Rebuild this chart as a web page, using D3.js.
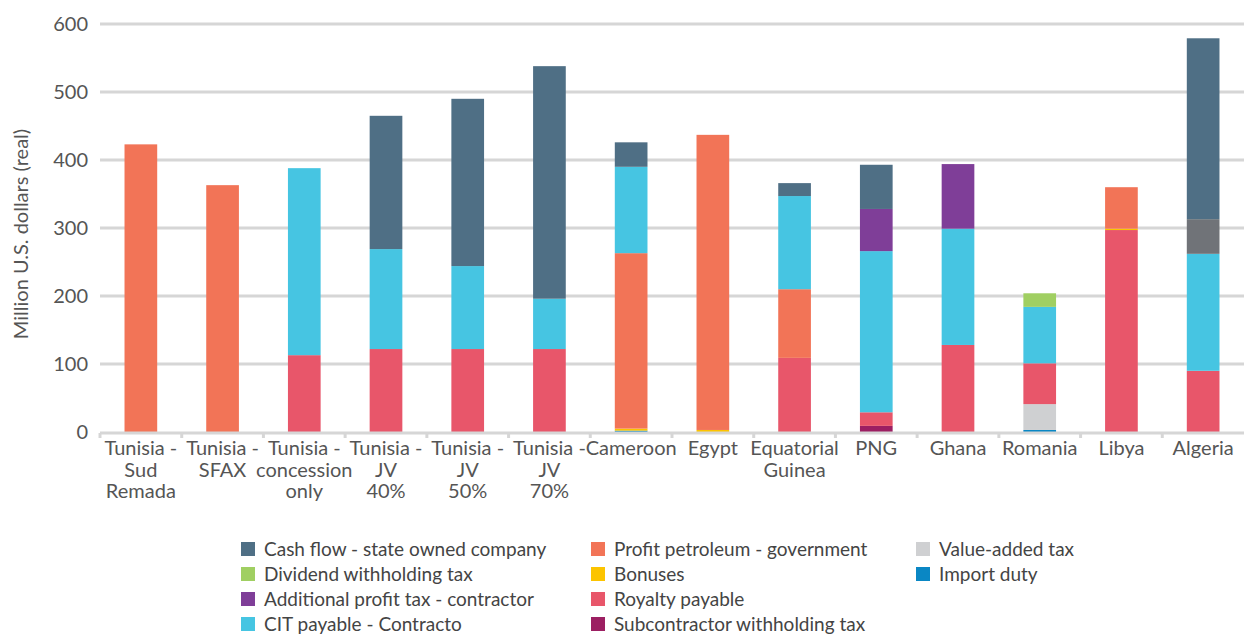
<!DOCTYPE html>
<html>
<head>
<meta charset="utf-8">
<script src="https://cdn.jsdelivr.net/npm/d3@7"></script>
<style>
  body { margin: 0; background: #fff; }
  svg { font-family: Lato, "Open Sans", sans-serif; }
</style>
</head>
<body>
<script>
// categories (label lines)
var categories = [
  ["Tunisia -", "Sud", "Remada"],
  ["Tunisia -", "SFAX"],
  ["Tunisia -", "concession", "only"],
  ["Tunisia -", "JV", "40%"],
  ["Tunisia -", "JV", "50%"],
  ["Tunisia -", "JV", "70%"],
  ["Cameroon"],
  ["Egypt"],
  ["Equatorial", "Guinea"],
  ["PNG"],
  ["Ghana"],
  ["Romania"],
  ["Libya"],
  ["Algeria"]
];

// series, bottom to top of the stack
var seriesNames = ["Import duty", "Value-added tax", "Subcontractor withholding tax", "Royalty payable",
  "Bonuses", "Profit petroleum - government", "CIT payable - Contracto", "Additional profit tax - contractor",
  "Dividend withholding tax", "Other", "Cash flow - state owned company"];

var importDuty    = [0, 0, 0, 0, 0, 0, 2, 0, 0, 0, 0, 3, 0, 0];
var vat           = [0, 0, 0, 0, 0, 0, 0, 0, 0, 0, 0, 38, 0, 0];
var subcontractor = [0, 0, 0, 0, 0, 0, 0, 0, 0, 9, 0, 0, 0, 0];
var royalty       = [0, 0, 113, 122, 122, 122, 0, 0, 109, 20, 128, 60, 297, 90];
var bonuses       = [0, 0, 0, 0, 0, 0, 3, 3, 0, 0, 0, 0, 2, 0];
var profitPetro   = [423, 363, 0, 0, 0, 0, 258, 434, 101, 0, 0, 0, 61, 0];
var citPayable    = [0, 0, 275, 147, 122, 74, 127, 0, 137, 237, 171, 83, 0, 172];
var addProfitTax  = [0, 0, 0, 0, 0, 0, 0, 0, 0, 62, 95, 0, 0, 0];
var dividendTax   = [0, 0, 0, 0, 0, 0, 0, 0, 0, 0, 0, 20, 0, 0];
var otherTax      = [0, 0, 0, 0, 0, 0, 0, 0, 0, 0, 0, 0, 0, 51];
var cashFlow      = [0, 0, 0, 196, 246, 342, 36, 0, 19, 65, 0, 0, 0, 266];

var seriesValues = [importDuty, vat, subcontractor, royalty, bonuses, profitPetro,
  citPayable, addProfitTax, dividendTax, otherTax, cashFlow];

var colors = ["#0a87c4", "#cfd0d2", "#9c1f62", "#e8566a", "#fcc400", "#f27457",
  "#46c5e2", "#7f3e98", "#a0cf62", "#707378", "#4f6f85"];

var yTicks = [0, 100, 200, 300, 400, 500, 600];

// legend layout (columns of names as in the picture)
var legendCols = [
  ["Cash flow - state owned company", "Dividend withholding tax", "Additional profit tax - contractor", "CIT payable - Contracto"],
  ["Profit petroleum - government", "Bonuses", "Royalty payable", "Subcontractor withholding tax"],
  ["Value-added tax", "Import duty"]
];

var width = 1244, height = 635;

var svg = d3.select("body").append("svg")
  .attr("width", width)
  .attr("height", height);

var x = d3.scaleBand()
  .domain(d3.range(categories.length))
  .range([100, 1244])
  .paddingInner(0.6)
  .paddingOuter(0.3);

var y = d3.scaleLinear()
  .domain([0, 600])
  .range([432, 24]);

// gridlines
svg.selectAll(".grid")
  .data(yTicks.filter(function(d){ return d > 0; }))
  .enter().append("line")
  .attr("class", "grid")
  .attr("x1", 100).attr("x2", width)
  .attr("y1", function(d){ return y(d); })
  .attr("y2", function(d){ return y(d); })
  .attr("stroke", "#d6d6d6")
  .attr("stroke-width", 3);

// y tick labels
svg.selectAll(".ylab")
  .data(yTicks)
  .enter().append("text")
  .attr("x", 88)
  .attr("y", function(d){ return y(d); })
  .attr("dy", "0.35em")
  .attr("text-anchor", "end")
  .attr("font-size", 20)
  .attr("fill", "#555")
  .text(function(d){ return d; });

// y title
svg.append("text")
  .attr("transform", "translate(28,234) rotate(-90)")
  .attr("text-anchor", "middle")
  .attr("font-size", 20)
  .attr("fill", "#555")
  .text("Million U.S. dollars (real)");

// stacked data
var rows = categories.map(function(c, i){
  var r = { i: i };
  seriesNames.forEach(function(s, k){ r[s] = seriesValues[k][i]; });
  return r;
});
var stacked = d3.stack().keys(seriesNames)(rows);

svg.selectAll(".series")
  .data(stacked)
  .enter().append("g")
  .attr("class", "series")
  .attr("fill", function(d, k){ return colors[k]; })
  .selectAll("rect")
  .data(function(d){ return d.filter(function(p){ return p[1] > p[0]; }); })
  .enter().append("rect")
  .attr("x", function(p){ return x(p.data.i); })
  .attr("width", x.bandwidth())
  .attr("y", function(p){ return y(p[1]); })
  .attr("height", function(p){ return y(p[0]) - y(p[1]); });

// x axis baseline and ticks at band boundaries
svg.append("line")
  .attr("x1", 100).attr("x2", width)
  .attr("y1", 433).attr("y2", 433)
  .attr("stroke", "#d6d6d6")
  .attr("stroke-width", 3);

svg.selectAll(".xtick")
  .data(d3.range(categories.length))
  .enter().append("line")
  .attr("x1", function(i){ return 100 + i * x.step(); })
  .attr("x2", function(i){ return 100 + i * x.step(); })
  .attr("y1", 433).attr("y2", 438)
  .attr("stroke", "#d6d6d6")
  .attr("stroke-width", 3);

// category labels
var cl = svg.selectAll(".xlab")
  .data(categories)
  .enter().append("text")
  .attr("text-anchor", "middle")
  .attr("font-size", 20)
  .attr("fill", "#555");
cl.selectAll("tspan")
  .data(function(d, i){ return d.map(function(t, j){ return { t: t, i: i, j: j }; }); })
  .enter().append("tspan")
  .attr("x", function(d){ return x(d.i) + x.bandwidth() / 2; })
  .attr("y", function(d){ return 455 + d.j * 21.5; })
  .text(function(d){ return d.t; });

// legend
var legendX = [241, 591, 916];
legendCols.forEach(function(col, c){
  col.forEach(function(name, r){
    var k = seriesNames.indexOf(name);
    var g = svg.append("g")
      .attr("transform", "translate(" + legendX[c] + "," + (549 + r * 25) + ")");
    g.append("rect")
      .attr("x", 0).attr("y", -7)
      .attr("width", 14).attr("height", 14)
      .attr("fill", colors[k]);
    g.append("text")
      .attr("x", 23)
      .attr("dy", "0.35em")
      .attr("font-size", 19)
      .attr("fill", "#444")
      .text(name);
  });
});
</script>
</body>
</html>
